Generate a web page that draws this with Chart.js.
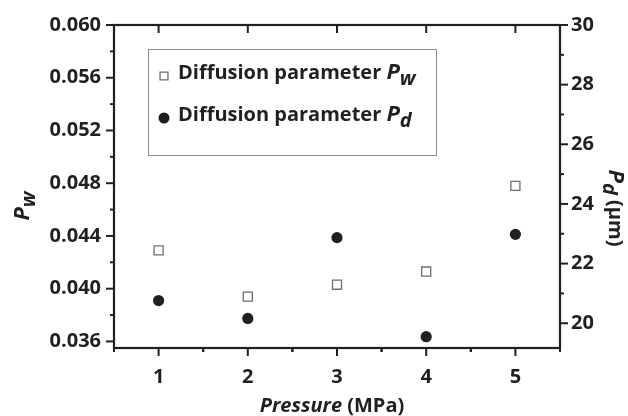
<!DOCTYPE html>
<html>
<head>
<meta charset="utf-8">
<script src="https://cdn.jsdelivr.net/npm/chart.js@4.4.0/dist/chart.umd.min.js"></script>
<style>
  body { margin: 0; background: #fff; }
  #wrap { width: 628px; height: 416px; }
</style>
</head>
<body>
<div id="wrap"><canvas id="chart" width="628" height="416"></canvas></div>
<script>
const pressure = [1, 2, 3, 4, 5];
const pwValues = [0.0429, 0.0394, 0.0403, 0.0413, 0.0478];
const pdValues = [20.76, 20.16, 22.87, 19.55, 22.98];
const xTicks = [1, 2, 3, 4, 5];
const pwTicks = [0.036, 0.040, 0.044, 0.048, 0.052, 0.056, 0.060];
const pdTicks = [20, 22, 24, 26, 28, 30];

const ink = '#231f20';
const fontFam = "'Open Sans', sans-serif";

// draws a run of text pieces (different fonts, subscripts) centred on x
const drawRich = (ctx, parts, x, y) => {
    let total = 0;
    parts.forEach(p => { ctx.font = p.font; total += ctx.measureText(p.text).width; });
    let cx = x - total / 2;
    parts.forEach(p => {
        ctx.font = p.font;
        ctx.fillText(p.text, cx, y + (p.dy || 0));
        cx += ctx.measureText(p.text).width;
    });
};

const decor = {
    id: 'decor',
    afterDraw(chart) {
        const { ctx, chartArea: a, scales } = chart;
        ctx.save();
        ctx.strokeStyle = ink;
        ctx.lineWidth = 2.2;
        ctx.strokeRect(a.left, a.top, a.right - a.left, a.bottom - a.top);
        const line = (x1, y1, x2, y2) => {
            ctx.beginPath(); ctx.moveTo(x1, y1); ctx.lineTo(x2, y2); ctx.stroke();
        };
        ctx.lineWidth = 2;
        // x ticks
        xTicks.forEach(v => {
            const px = scales.x.getPixelForValue(v);
            line(px, a.bottom, px, a.bottom + 8);
            line(px, a.top, px, a.top + 8);
            [v - 0.5, v + 0.5].forEach(m => {
                const mx = scales.x.getPixelForValue(m);
                line(mx, a.bottom, mx, a.bottom + 4);
            });
        });
        // left ticks
        pwTicks.forEach(v => {
            const py = scales.y.getPixelForValue(v);
            line(a.left - 8, py, a.left, py);
            if (v < 0.06) {
                const my = scales.y.getPixelForValue(v + 0.002);
                line(a.left - 4, my, a.left, my);
            }
        });
        // right ticks
        pdTicks.forEach(v => {
            const py = scales.y2.getPixelForValue(v);
            line(a.right, py, a.right + 8, py);
            if (v < 30) {
                const my = scales.y2.getPixelForValue(v + 1);
                line(a.right, my, a.right + 4, my);
            }
        });

        // axis titles
        ctx.fillStyle = ink;
        ctx.textBaseline = 'alphabetic';
        drawRich(ctx, [
            { text: 'Pressure', font: `italic bold 20px ${fontFam}` },
            { text: ' (MPa)', font: `bold 20px ${fontFam}` }
        ], 332, 412);

        ctx.save();
        ctx.translate(29, 206);
        ctx.rotate(-Math.PI / 2);
        drawRich(ctx, [
            { text: 'P', font: `italic bold 22px ${fontFam}` },
            { text: 'w', font: `italic bold 20px ${fontFam}`, dy: 6 }
        ], 0, 0);
        ctx.restore();

        ctx.save();
        ctx.translate(609, 208);
        ctx.rotate(Math.PI / 2);
        drawRich(ctx, [
            { text: 'P', font: `italic bold 22px ${fontFam}` },
            { text: 'd', font: `italic bold 20px ${fontFam}`, dy: 6 },
            { text: ' (\u03bcm)', font: `bold 20px ${fontFam}` }
        ], 0, 0);
        ctx.restore();

        // legend
        ctx.strokeStyle = '#8c8c8c';
        ctx.lineWidth = 1;
        ctx.strokeRect(148.5, 49.5, 288, 106);
        const ds = chart.data.datasets;
        const rows = [
            { set: ds[0], sub: 'w', y: 72 },
            { set: ds[1], sub: 'd', y: 114 }
        ];
        rows.forEach(r => {
            ctx.fillStyle = r.set.backgroundColor;
            ctx.strokeStyle = r.set.borderColor;
            ctx.lineWidth = r.set.borderWidth;
            Chart.helpers.drawPoint(ctx, {
                pointStyle: r.set.pointStyle,
                radius: r.set.pointStyle === 'rect' ? 5.6 : 5.5,
                borderWidth: r.set.borderWidth,
                rotation: 0
            }, 164, r.y + 4);
            ctx.fillStyle = ink;
            ctx.textAlign = 'left';
            ctx.font = `bold 20px ${fontFam}`;
            ctx.fillText('Diffusion parameter ', 178, r.y + 7);
            const w = ctx.measureText('Diffusion parameter ').width;
            ctx.font = `italic bold 22px ${fontFam}`;
            ctx.fillText('P', 178 + w, r.y + 7);
            const pw = ctx.measureText('P').width;
            ctx.font = `italic bold 20px ${fontFam}`;
            ctx.fillText(r.sub, 178 + w + pw, r.y + 13);
        });
        ctx.restore();
    }
};

const tickFont = { family: fontFam, size: 20, weight: 'bold' };

new Chart(document.getElementById('chart'), {
    type: 'scatter',
    data: {
        datasets: [{
            label: 'Diffusion parameter Pw',
            data: pressure.map((p, i) => ({ x: p, y: pwValues[i] })),
            yAxisID: 'y',
            pointStyle: 'rect',
            pointRadius: 6.4,
            backgroundColor: '#ffffff',
            borderColor: '#6e6e6e',
            borderWidth: 1.3
        }, {
            label: 'Diffusion parameter Pd',
            data: pressure.map((p, i) => ({ x: p, y: pdValues[i] })),
            yAxisID: 'y2',
            pointStyle: 'circle',
            pointRadius: 5.6,
            backgroundColor: ink,
            borderColor: ink,
            borderWidth: 0
        }]
    },
    options: {
        responsive: false,
        animation: false,
        layout: { padding: { top: 23, left: 0, right: 0, bottom: 0 } },
        plugins: {
            legend: { display: false },
            tooltip: { enabled: false }
        },
        scales: {
            x: {
                type: 'linear',
                min: 0.5,
                max: 5.5,
                afterBuildTicks: s => { s.ticks = xTicks.map(v => ({ value: v })); },
                afterFit: s => { s.height = 68; },
                grid: { display: false, drawTicks: false },
                border: { display: false },
                ticks: { font: tickFont, color: ink, padding: 17, callback: v => String(v) }
            },
            y: {
                position: 'left',
                min: 0.0355,
                max: 0.060,
                afterBuildTicks: s => { s.ticks = pwTicks.map(v => ({ value: v })); },
                afterFit: s => { s.width = 114; },
                grid: { display: false, drawTicks: false },
                border: { display: false },
                ticks: { font: tickFont, color: ink, padding: 13, callback: v => v.toFixed(3) }
            },
            y2: {
                position: 'right',
                min: 19.17,
                max: 30,
                afterBuildTicks: s => { s.ticks = pdTicks.map(v => ({ value: v })); },
                afterFit: s => { s.width = 68; },
                grid: { display: false, drawTicks: false },
                border: { display: false },
                ticks: { font: tickFont, color: ink, padding: 11, callback: v => String(v) }
            }
        }
    },
    plugins: [decor]
});
</script>
</body>
</html>
